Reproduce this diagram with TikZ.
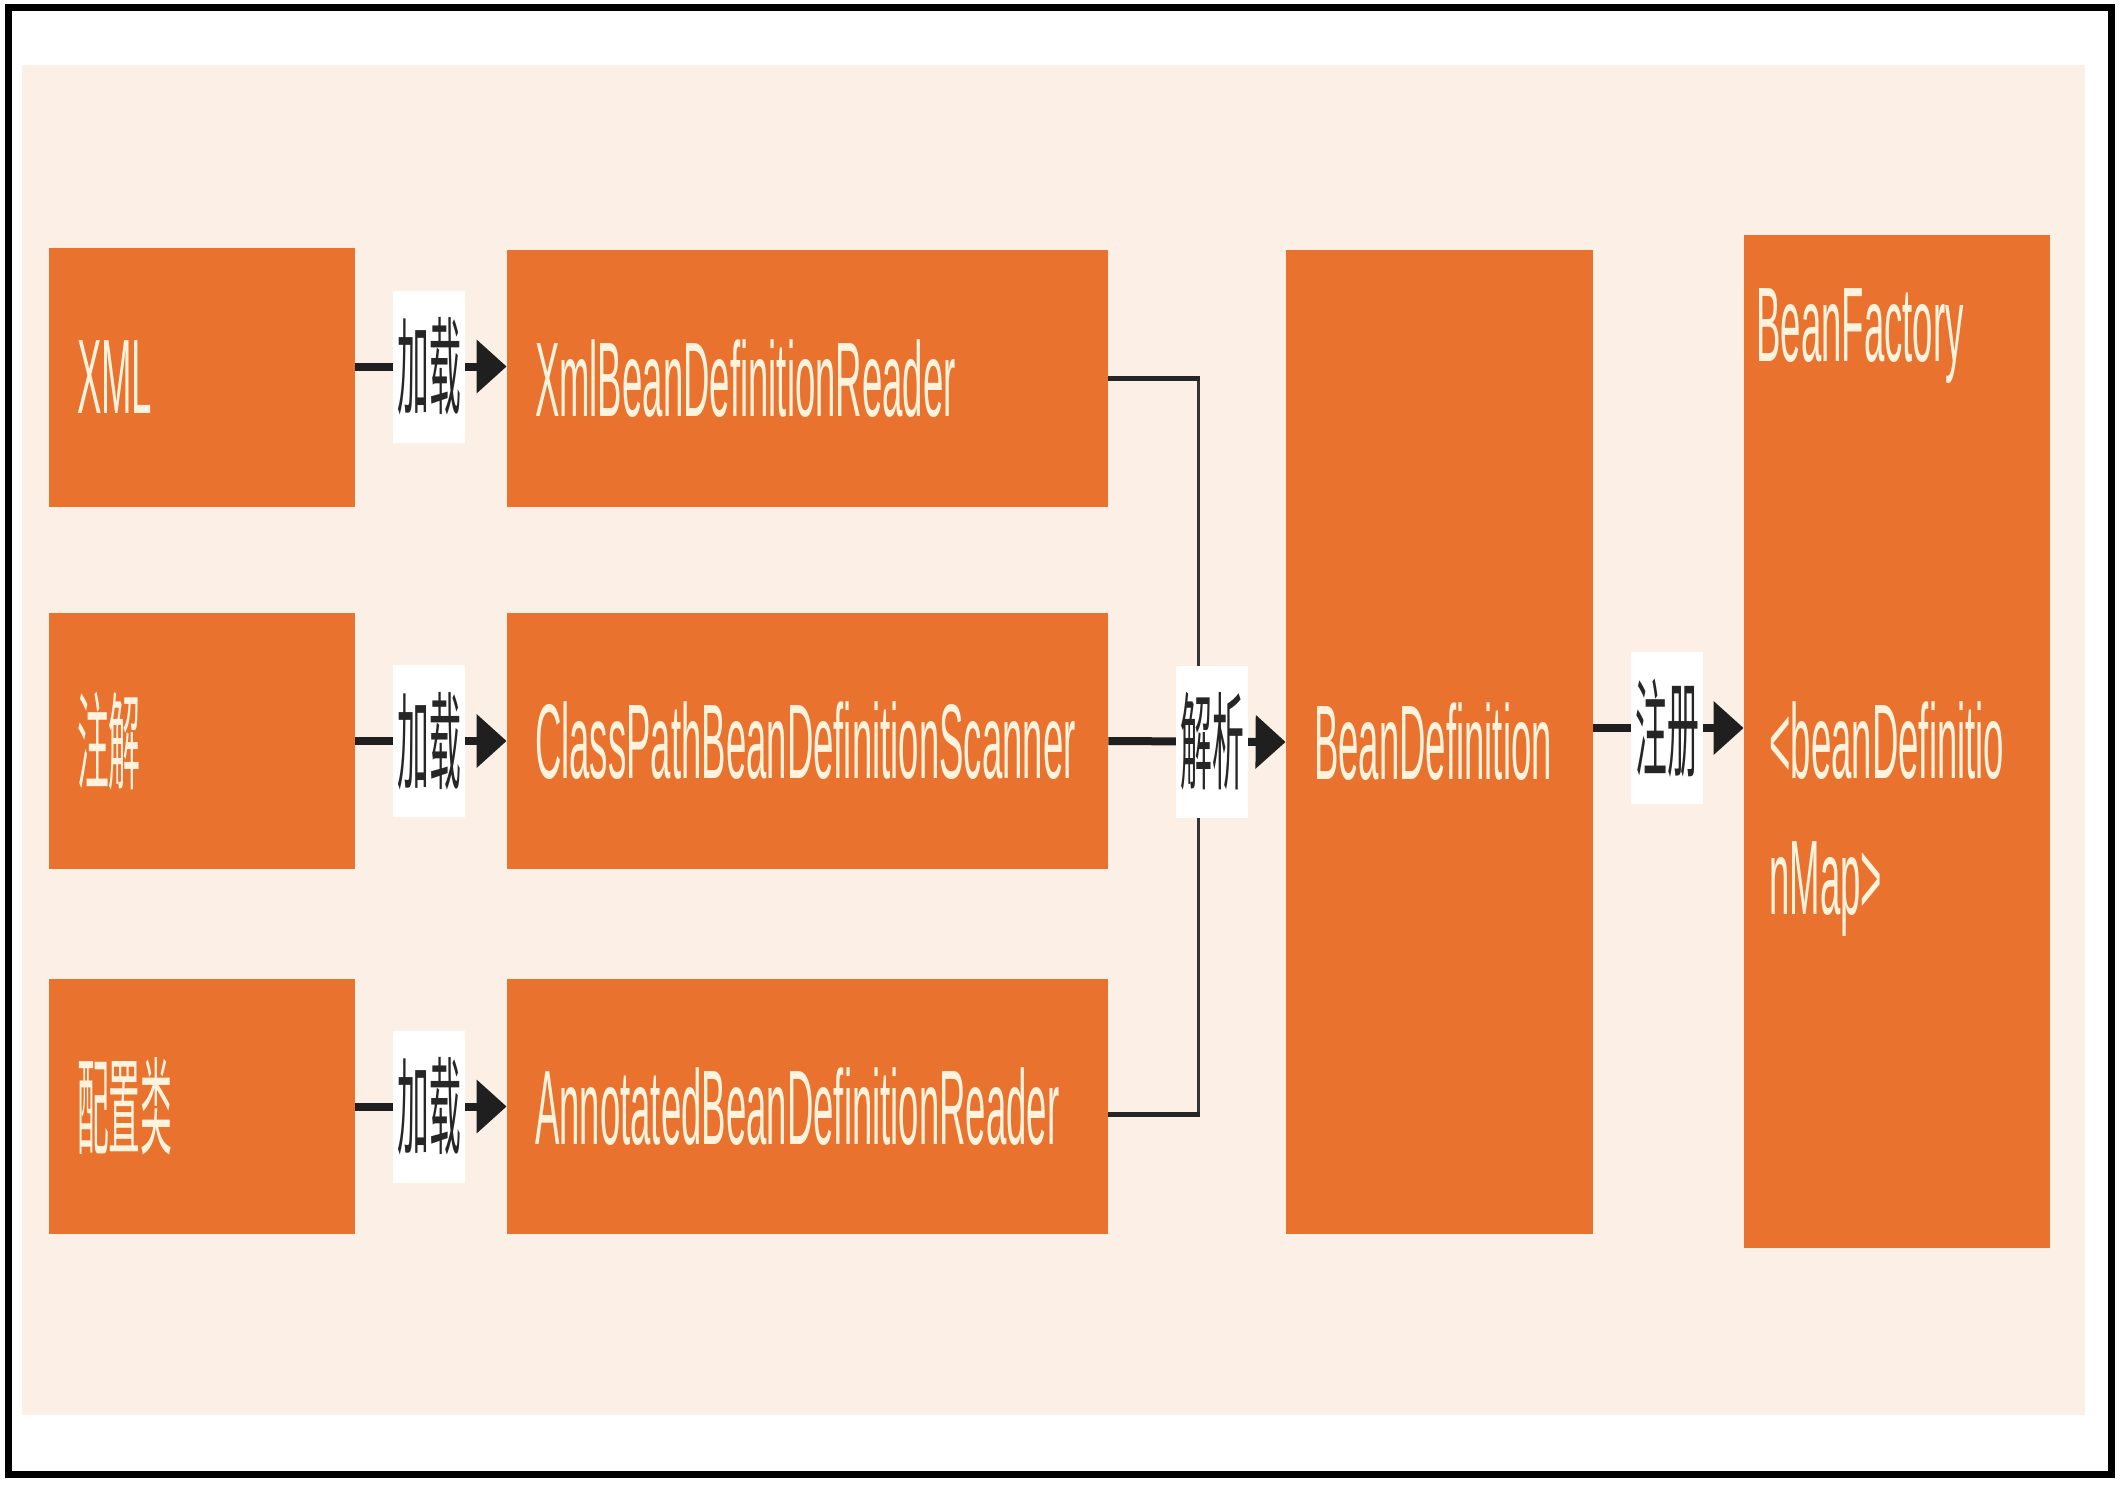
\documentclass[tikz,border=0pt]{standalone}
\usepackage{fontspec}
\setmainfont{Liberation Sans}[FakeStretch=0.345]
\newfontfamily\cjk{Noto Sans CJK SC}[FakeStretch=0.3]
\usetikzlibrary{arrows.meta,calc}
\definecolor{boxor}{HTML}{E8722E}
\definecolor{cream}{HTML}{FFF3DE}
\definecolor{peach}{HTML}{FCEFE5}
\definecolor{labtxt}{HTML}{262626}
\tikzset{
  box/.style={fill=boxor, draw=none, text=cream, inner xsep=14pt, inner ysep=0pt,
    align=left, font=\fontsize{53pt}{64pt}\selectfont},
  btxt/.style={text=cream, inner sep=0pt, font=\fontsize{53pt}{64pt}\selectfont},
  lab/.style={fill=white, text=labtxt, minimum width=36pt, minimum height=76pt,
    inner sep=0pt, font=\cjk\fontsize{53pt}{60pt}\selectfont},
  arr/.style={draw=black!88, line width=4pt, -{Triangle[length=15pt,width=26pt]}},
  brkh/.style={draw=black!85, line width=2.5pt},
  brkv/.style={draw=black!80, line width=1.5pt},
}
\begin{document}
\begin{tikzpicture}[x=0.5pt,y=-0.5pt]
\useasboundingbox (0,0) rectangle (2122,1488);
\fill[white] (0,0) rectangle (2122,1488);
% background panel
\fill[peach] (22,65) rectangle (2085,1415);
% frame
\draw[black, line width=3.5pt] (8.5,7.5) rectangle (2111.5,1474.5);

% left column
\node[box, text width=125pt, minimum height=129.5pt] (xml) at (202,377.5) {XML};
\node[box, text width=125pt, minimum height=128pt] (zj) at (202,741) {\cjk 注解};
\node[box, text width=125pt, minimum height=127.5pt] (pz) at (202,1106.5) {\cjk 配置类};

% readers
\node[box, text width=272.5pt, minimum height=128.5pt] (xmlr) at (807.5,378.5) {XmlBeanDefinitionReader};
\node[box, text width=272.5pt, minimum height=128pt] (cp) at (807.5,741) {ClassPathBeanDefinitionScanner};
\node[box, text width=272.5pt, minimum height=127.5pt] (ann) at (807.5,1106.5) {AnnotatedBeanDefinitionReader};

% BeanDefinition
\node[box, text width=125.5pt, minimum height=492pt] (bd) at (1439.5,742) {BeanDefinition};

% BeanFactory
\node[box, text width=125pt, minimum height=506.5pt] (bf) at (1897,741.5) {};
\node[btxt, anchor=base west] (bft1) at (1756,361) {BeanFactory};
\node[btxt, anchor=base west] (bft2) at (1769,778) {<beanDefinitio};
\node[btxt, anchor=base west] (bft3) at (1769,914) {nMap>};

% load arrows
\draw[arr] ([yshift=5.5pt]xml.east) -- ([yshift=5.5pt]xml.east -| xmlr.west) node[lab, pos=0.49] (l1) {加载};
\draw[arr] (zj.east) -- (cp.west) node[lab, pos=0.49] (l2) {加载};
\draw[arr] (pz.east) -- (ann.west) node[lab, pos=0.49] (l3) {加载};

% bracket
\coordinate (jx) at (1198,741);
\draw[brkv] (xmlr.east -| jx) -- ([yshift=-4pt]ann.east -| jx);
\draw[brkh] (xmlr.east) -- ([xshift=0.75pt]xmlr.east -| jx);
\draw[brkh] ([yshift=-4pt]ann.east) -- ([yshift=-4pt,xshift=0.75pt]ann.east -| jx);

% parse arrow
\draw[arr] (cp.east) -- (bd.west) node[lab, pos=0.585] (l4) {解析};

% register arrow
\draw[arr] ([yshift=7pt]bd.east) -- ([yshift=7pt]bd.east -| bf.west) node[lab, pos=0.49] (l5) {注册};
\end{tikzpicture}
\end{document}
